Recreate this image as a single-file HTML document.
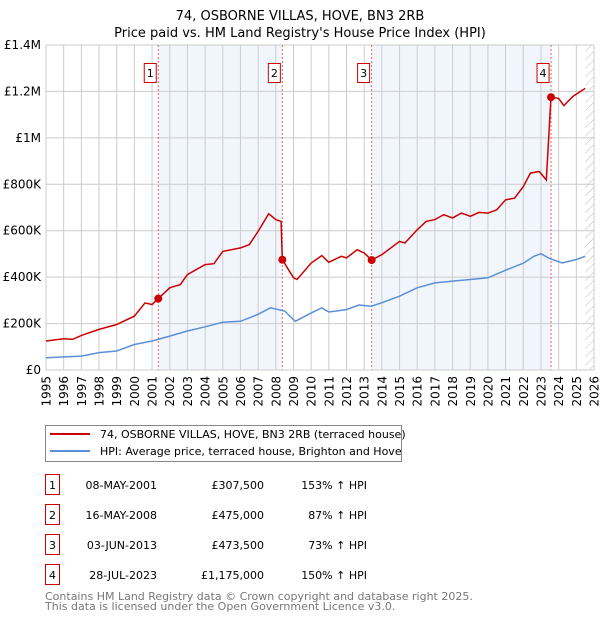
<!DOCTYPE html>
<html><head><meta charset="utf-8"><style>
body{margin:0;background:#fff;font-family:"Liberation Sans","DejaVu Sans",sans-serif;}
svg text{font-family:"DejaVu Sans","Liberation Sans",sans-serif;}
</style></head><body>
<svg id="chart" width="600" height="620" xmlns="http://www.w3.org/2000/svg">
<text x="300" y="20" text-anchor="middle" font-size="13">74, OSBORNE VILLAS, HOVE, BN3 2RB</text>
<text x="300" y="37" text-anchor="middle" font-size="13">Price paid vs. HM Land Registry's House Price Index (HPI)</text>
<g id="plot"></g>
<g>
<rect x="45.5" y="425.5" width="356" height="36" fill="#fff" stroke="#888"/>
<line x1="50" y1="434" x2="90" y2="434" stroke="#cc0000" stroke-width="2"/>
<text x="100" y="438" font-size="11">74, OSBORNE VILLAS, HOVE, BN3 2RB (terraced house)</text>
<line x1="50" y1="451" x2="90" y2="451" stroke="#5b8fd6" stroke-width="2"/>
<text x="100" y="455" font-size="11">HPI: Average price, terraced house, Brighton and Hove</text>
</g>
<g id="table" font-size="11"></g>
<text x="45" y="600" font-size="11" fill="#777">Contains HM Land Registry data © Crown copyright and database right 2025.</text>
<text x="45" y="610" font-size="11" fill="#777">This data is licensed under the Open Government Licence v3.0.</text>
</svg>
<script>
const hpiYears=[1995,1997,1998,1999,2000,2001,2002,2003,2004,2005,2006,2007,2007.7,2008.5,2009.1,2010,2010.6,2011,2012,2012.7,2013.4,2014,2015,2016,2017,2018,2019,2020,2021,2022,2022.6,2023,2023.5,2024.2,2025,2025.5];
const hpiValues=[53,60,75,82,110,125,146,168,186,206,210,240,268,254,210,246,268,250,260,280,275,290,318,354,375,383,390,397,430,460,490,501,480,461,476,490];
const priceYears=[1995,1996,1996.5,1997,1998,1999,2000,2000.6,2001,2001.35,2002,2002.6,2003,2004,2004.5,2005,2006,2006.5,2007,2007.6,2008,2008.3,2008.37,2009,2009.2,2010,2010.6,2011,2011.7,2012,2012.6,2013,2013.42,2014,2015,2015.3,2016,2016.5,2017,2017.5,2018,2018.5,2019,2019.5,2020,2020.5,2021,2021.5,2022,2022.4,2022.9,2023.3,2023.57,2024,2024.3,2024.8,2025.5];
const priceValues=[125,135,132,149,175,196,232,289,282,307.5,354,368,411,454,458,511,526,540,597,673,648,640,475,397,390,461,493,464,490,483,518,504,473.5,497,554,547,604,640,648,669,655,676,662,679,676,690,733,740,790,848,855,819,1175,1170,1139,1178,1213];
const saleYears=[2001.35,2008.37,2013.42,2023.57];
const saleValues=[307.5,475,473.5,1175];
const saleLabels=["1","2","3","4"];
const saleDates=["08-MAY-2001","16-MAY-2008","03-JUN-2013","28-JUL-2023"];
const salePrices=["£307,500","£475,000","£473,500","£1,175,000"];
const salePcts=["153% ↑ HPI","87% ↑ HPI","73% ↑ HPI","150% ↑ HPI"];
const yTicks=[0,200,400,600,800,1000,1200,1400];
const yTickLabels=["£0","£200K","£400K","£600K","£800K","£1M","£1.2M","£1.4M"];
const xTicks=[];for(let y=1995;y<=2026;y++)xTicks.push(y);

const X0=46,X1=594,Y0=370,Y1=45;
const xs=y=>X0+(y-1995)*(X1-X0)/31;
const ys=v=>Y0-v*(Y0-Y1)/1400;
const NS="http://www.w3.org/2000/svg";
const plot=document.getElementById('plot');
function mk(tag,attrs,parent){const e=document.createElementNS(NS,tag);for(const k in attrs)e.setAttribute(k,attrs[k]);(parent||plot).appendChild(e);return e;}
for(let i=0;i<saleYears.length;i+=2){
 const end=i+1<saleYears.length?saleYears[i+1]:2025.5;
 const r=mk('rect',{x:xs(saleYears[i]),y:Y1,width:xs(end)-xs(saleYears[i]),height:Y0-Y1,fill:'#eef4fc',opacity:0.8});
 
 
}
const defs=mk('defs',{});
const pat=mk('pattern',{id:'hatch',width:6,height:6,patternUnits:'userSpaceOnUse',patternTransform:'rotate(45)'},defs);
mk('line',{x1:0,y1:0,x2:0,y2:6,stroke:'#bbb','stroke-width':1},pat);
const hr=mk('rect',{x:xs(2025.5),y:Y1,width:X1-xs(2025.5),height:Y0-Y1,fill:'url(#hatch)'});


xTicks.forEach(t=>{
 const l=mk('line',{x1:xs(t),y1:Y1,x2:xs(t),y2:Y0,stroke:'#ccc','stroke-width':1});
 
 
 const tx=mk('text',{x:0,y:0,'text-anchor':'end','font-size':12,transform:'translate('+(xs(t)+4.5)+','+(Y0+6)+') rotate(-90)'});
 tx.textContent=t;
 
 
});
yTicks.forEach((t,i)=>{
 const l=mk('line',{x1:X0,y1:ys(t),x2:X1,y2:ys(t),stroke:'#ccc','stroke-width':1});
 
 
 const tx=mk('text',{x:X0-5,y:ys(t)+4,'text-anchor':'end','font-size':12});
 tx.textContent=yTickLabels[i];
 
 
});
saleYears.forEach((s,i)=>{
 const l=mk('line',{x1:xs(s),y1:Y1,x2:xs(s),y2:Y0,stroke:'#f06060','stroke-width':1,'stroke-dasharray':'2,2'});
 
 
 const r=mk('rect',{x:xs(s)-14,y:63.5,width:12,height:19,fill:'#fff',stroke:'#cc0000'});
 
 
 const t=mk('text',{x:xs(s)-8,y:77,'text-anchor':'middle','font-size':11});
 t.textContent=saleLabels[i];
 
 
});
function path(xa,va,color,name){
 const d=xa.map((x,i)=>(i?'L':'M')+xs(x).toFixed(1)+','+ys(va[i]).toFixed(1)).join('');
 const p=mk('path',{d:d,fill:'none',stroke:color,'stroke-width':1.5});
 
 
}
path(hpiYears,hpiValues,'#5b8fd6','hpi-line');
path(priceYears,priceValues,'#cc0000','price-line');
saleYears.forEach((s,i)=>{
 const c=mk('circle',{cx:xs(s),cy:ys(saleValues[i]),r:4,fill:'#cc0000'});
 
 
});
mk('line',{x1:X0,y1:Y0,x2:X1,y2:Y0,stroke:'#ccc'});
const tb=document.getElementById('table');
saleLabels.forEach((lab,i)=>{
 const y=485+i*30;
 const r=mk('rect',{x:45.5,y:y-10.5,width:14,height:20,fill:'#fff',stroke:'#cc0000'},tb);
 
 
 const cells=[[52.5,lab,'middle'],[157,saleDates[i],'end'],[264,salePrices[i],'end'],[367,salePcts[i],'end']];
 cells.forEach(c=>{
  const t=mk('text',{x:c[0],y:y+4,'text-anchor':c[2],'font-size':11},tb);
  t.textContent=c[1];
  
  
 });
});
</script>
</body></html>
